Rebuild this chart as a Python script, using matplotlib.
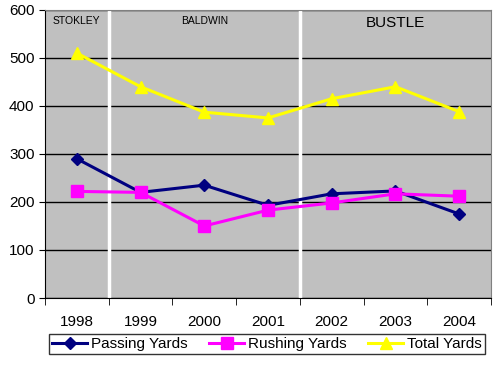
import matplotlib.pyplot as plt
import numpy as np

plt.rcParams['font.family'] = ['Liberation Sans', 'DejaVu Sans']

years = ['1998', '1999', '2000', '2001', '2002', '2003', '2004']
passing = [290, 220, 235, 193, 217, 223, 175]
rushing = [222, 220, 150, 183, 198, 217, 212]
total = [510, 440, 387, 375, 415, 440, 388]
coaches = ['STOKLEY', 'BALDWIN', 'BUSTLE']
coach_x = [0, 2, 5]
coach_breaks = [0.5, 3.5]

fig = plt.figure(figsize=(5, 3.67), dpi=100)
ax = fig.add_axes([0.09, 0.188, 0.892, 0.785])
ax.set_facecolor('#c0c0c0')

x = np.arange(len(years))

ax.plot(x, passing, color='#000080', marker='D', markersize=6, linewidth=2.2, label='Passing Yards', zorder=3)
ax.plot(x, rushing, color='#ff00ff', marker='s', markersize=8, linewidth=2.2, label='Rushing Yards', zorder=3)
ax.plot(x, total, color='#ffff00', marker='^', markersize=9, linewidth=2.2, label='Total Yards', zorder=3)

for b in coach_breaks:
    ax.axvline(b, color='white', linewidth=2.5, zorder=2)

ax.set_xlim(-0.5, 6.5)
ax.set_ylim(0, 600)
ax.set_yticks(np.arange(0, 601, 100))
ax.yaxis.grid(True, color='black', linewidth=1)
ax.set_axisbelow(True)

ax.set_xticks(x)
ax.set_xticklabels(years, fontsize=11)
ax.set_xticks(np.arange(-0.5, 7, 1), minor=True)
ax.tick_params(axis='x', which='major', length=0, pad=12)
ax.tick_params(axis='x', which='minor', length=5, direction='out')
ax.tick_params(axis='y', labelsize=11, length=4)

ax.spines['top'].set_color('#808080')
ax.spines['right'].set_color('#808080')

for name, cx in zip(coaches, coach_x):
    fs = 11 if name == 'BUSTLE' else 7.5
    ax.text(cx, 587, name, ha='center', va='top', fontsize=fs)

leg = fig.legend(loc='center', bbox_to_anchor=(0.534, 0.063), ncol=3, fontsize=11,
                 frameon=True, fancybox=False, edgecolor='black', handlelength=2.3,
                 borderpad=0.2, columnspacing=1.4, handletextpad=0.25, borderaxespad=0)
leg.get_frame().set_linewidth(1)

fig.savefig('out.png', dpi=100)
